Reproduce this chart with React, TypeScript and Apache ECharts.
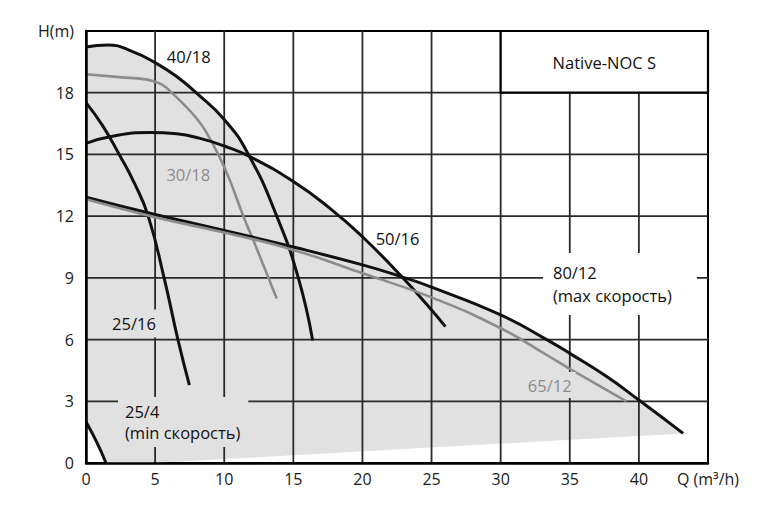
import React, { useEffect, useRef } from "react";
import * as echarts from "echarts";

// ---- data (Q in m³/h, H in m) ----
const curve4018 = [[0, 20.22], [1.57, 20.32], [3.37, 20.0], [5, 19.46], [6.51, 18.81], [7.96, 18], [10, 16.7], [11.75, 15], [13.8, 12], [15.36, 9], [16.4, 5.95]];
const curve3018 = [[0, 18.9], [2.4, 18.76], [4.3, 18.65], [5, 18.53], [5.6, 18.35], [6.2, 18.0], [7.2, 17.35], [8.0, 16.75], [8.6, 16.19], [9.57, 15], [10.4, 13.76], [11.38, 12], [12.1, 10.84], [13.2, 9], [13.8, 8.0]];
const curve5016 = [[0, 15.54], [2, 15.9], [4.6, 16.06], [6.56, 16.0], [8.25, 15.78], [10, 15.41], [11.87, 14.89], [15, 13.68], [17.65, 12.38], [20, 11.0], [22.8, 9.09], [25, 7.44], [26, 6.63]];
const curve2516 = [[0, 17.52], [1.2, 16.4], [2.4, 15], [3.5, 13.6], [4.5, 12], [5.65, 9], [6.65, 6], [7.48, 3.79]];
const curve8012 = [[0, 12.92], [4.63, 12.14], [10, 11.3], [15, 10.5], [20, 9.63], [22.85, 9.05], [25, 8.55], [30, 7.2], [33.33, 6], [35, 5.33], [37.67, 4.2], [40, 3.06], [43.2, 1.44]];
const curve6512 = [[0, 12.82], [5, 11.95], [10, 11.2], [15, 10.36], [20, 9.22], [25, 8.05], [30, 6.55], [33.33, 5.25], [35, 4.58], [39.1, 3.0]];
const curve254 = [[0, 2.01], [0.75, 1.05], [1.45, 0]];

// outline of the shaded operating range
const shadedArea = [[0, 2.01], [0, 20.22], [1.57, 20.32], [3.37, 20.0], [5, 19.46], [6.51, 18.81], [7.96, 18], [10, 16.7], [11.75, 15.0], [15, 13.68], [17.65, 12.38], [20, 11.0], [22.85, 9.05], [25, 8.55], [30, 7.2], [33.33, 6], [35, 5.33], [37.67, 4.2], [40, 3.06], [43.2, 1.44], [5, 0], [1.45, 0], [0.75, 1.05]];

// axes
const xMax = 45;
const yMax = 21;
const xGridValues = [5, 10, 15, 20, 25, 30, 35, 40];
const yGridValues = [3, 6, 9, 12, 15, 18];

// title box range [x1, y1, x2, y2]
const titleBox = [30, 18, 45, 21];
const titleText = "Native-NOC S";

const xAxisName = "Q (m³/h)";
const yAxisName = "H(m)";

const curveNames = ["40/18", "30/18", "50/16", "25/16", "80/12", "65/12", "25/4"];

const BLACK = "#111111";
const GRAY = "#8c8c8c";
const FILL = "#e1e1e1";
const GRID = "#2a2a2a";
const FONT = "'Open Sans', 'DejaVu Sans', sans-serif";
const LABEL_SIZE = 16.5;

const curveDefs = [
  { data: curve4018, color: BLACK, width: 3 },
  { data: curve3018, color: GRAY, width: 2.6 },
  { data: curve5016, color: BLACK, width: 3 },
  { data: curve2516, color: BLACK, width: 3 },
  { data: curve8012, color: BLACK, width: 3 },
  { data: curve6512, color: GRAY, width: 2.6 },
  { data: curve254, color: BLACK, width: 3 },
];

// annotation placement (layout, not data)
const annotations = [
  { text: "40/18", x: 7.43, y: 19.75, color: BLACK, align: "center", bg: "transparent", pad: [0, 0, 0, 0], lh: 18 },
  { text: "30/18", x: 7.4, y: 14.04, color: GRAY, align: "center", bg: "transparent", pad: [0, 0, 0, 0], lh: 18 },
  { text: "50/16", x: 22.54, y: 10.89, color: BLACK, align: "center", bg: "transparent", pad: [0, 0, 0, 0], lh: 18 },
  { text: "80/12\n(max скорость)", x: 33.06, y: 8.7, color: BLACK, align: "left", bg: "#ffffff", pad: [8, 25, 8, 10], lh: 23 },
  { text: "65/12", x: 33.55, y: 3.79, color: GRAY, align: "center", bg: FILL, pad: [5, 4, 5, 4], lh: 16 },
  { text: "25/16", x: 3.47, y: 6.78, color: BLACK, align: "center", bg: FILL, pad: [6, 4, 6, 4], lh: 16 },
  { text: "25/4\n(min скорость)", x: 2.315, y: 1.99, color: BLACK, align: "left", bg: FILL, pad: [4, 8, 4, 7], lh: 21 },
];

export default function App() {
  const ref = useRef<HTMLDivElement>(null);

  useEffect(() => {
    document.body.style.margin = "0";
    if (!ref.current) return;
    const chart = echarts.init(ref.current, null, { renderer: "svg" });

    const lineSeries = curveDefs.map((c, i) => ({
      name: curveNames[i],
      type: "line",
      data: c.data,
      smooth: 0.5,
      symbol: "none",
      showSymbol: false,
      silent: true,
      z: 25,
      lineStyle: { color: c.color, width: c.width },
    }));

    const axisLabelCommon = {
      showMinLabel: true,
      showMaxLabel: true,
      color: "#1a1a1a",
      fontSize: 16,
      fontFamily: FONT,
    };

    const option: any = {
      animation: false,
      backgroundColor: "#ffffff",
      grid: {
        left: 86,
        right: 56,
        top: 31,
        bottom: 59,
        show: true,
        borderColor: "#000",
        borderWidth: 2,
        backgroundColor: "transparent",
      },
      xAxis: {
        type: "value",
        min: 0,
        max: xMax,
        interval: 5,
        z: 26,
        axisLine: { show: true, onZero: false, lineStyle: { color: "#000", width: 2.5 } },
        axisTick: { show: false },
        splitLine: { show: false },
        axisLabel: {
          ...axisLabelCommon,
          margin: 8,
          formatter: (v: number) => (v === xMax ? xAxisName : String(v)),
        },
      },
      yAxis: {
        type: "value",
        min: 0,
        max: yMax,
        interval: 3,
        z: 26,
        axisLine: { show: true, onZero: false, lineStyle: { color: "#000", width: 2.5 } },
        axisTick: { show: false },
        splitLine: { show: false },
        axisLabel: {
          ...axisLabelCommon,
          margin: 12,
          formatter: (v: number) => (v === yMax ? yAxisName : String(v)),
        },
      },
      series: lineSeries,
    };

    chart.setOption(option);

    // layers positioned through the chart's own axes
    const toPx = (p: number[]) => chart.convertToPixel({ xAxisIndex: 0, yAxisIndex: 0 }, p) as number[];
    const elements: any[] = [];

    elements.push({
      type: "polygon",
      z: 1,
      silent: true,
      shape: { points: shadedArea.map(toPx) },
      style: { fill: FILL },
    });

    xGridValues.forEach((v) => {
      const a = toPx([v, 0]);
      const b = toPx([v, yMax]);
      elements.push({
        type: "line",
        z: 20,
        silent: true,
        shape: { x1: a[0], y1: a[1], x2: b[0], y2: b[1] },
        style: { stroke: GRID, lineWidth: 1.8 },
      });
    });
    yGridValues.forEach((v) => {
      const a = toPx([0, v]);
      const b = toPx([xMax, v]);
      elements.push({
        type: "line",
        z: 20,
        silent: true,
        shape: { x1: a[0], y1: a[1], x2: b[0], y2: b[1] },
        style: { stroke: GRID, lineWidth: 1.8 },
      });
    });

    annotations.forEach((a) => {
      const p = toPx([a.x, a.y]);
      elements.push({
        type: "text",
        z: 30,
        silent: true,
        x: p[0],
        y: p[1],
        style: {
          text: a.text,
          fill: a.color,
          fontSize: LABEL_SIZE,
          fontFamily: FONT,
          align: a.align,
          verticalAlign: "middle",
          backgroundColor: a.bg,
          padding: a.pad,
          lineHeight: a.lh,
        },
      });
    });

    const b1 = toPx([titleBox[0], titleBox[3]]);
    const b2 = toPx([titleBox[2], titleBox[1]]);
    elements.push({
      type: "rect",
      z: 31,
      silent: true,
      shape: { x: b1[0], y: b1[1], width: b2[0] - b1[0], height: b2[1] - b1[1] },
      style: { fill: "#ffffff", stroke: "#000", lineWidth: 2.2 },
    });
    elements.push({
      type: "text",
      z: 32,
      silent: true,
      x: (b1[0] + b2[0]) / 2,
      y: (b1[1] + b2[1]) / 2 + 1,
      style: {
        text: titleText,
        fill: BLACK,
        fontSize: LABEL_SIZE,
        fontFamily: FONT,
        align: "center",
        verticalAlign: "middle",
      },
    });

    chart.setOption({ graphic: { elements } });
    return () => chart.dispose();
  }, []);

  return <div ref={ref} style={{ width: 764, height: 522 }} />;
}
